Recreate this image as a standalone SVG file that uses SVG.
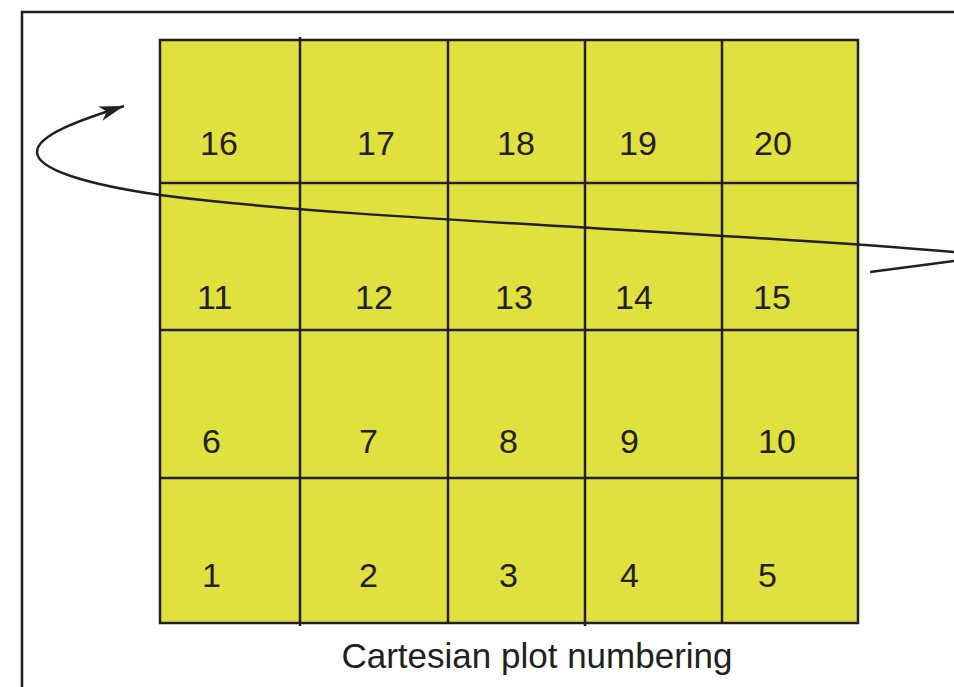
<svg xmlns="http://www.w3.org/2000/svg" width="954" height="687" viewBox="0 0 954 687">
<style>
.ln{stroke:#231f20;stroke-width:2.5;fill:none}
.cell{fill:#e0e03e;stroke:#231f20;stroke-width:2.5}
.num{font-family:"Liberation Sans",Arial,sans-serif;font-size:34px;fill:#231f20}
.cap{font-family:"Liberation Sans",Arial,sans-serif;font-size:35px;fill:#231f20}
</style>
<defs>
<marker id="arr" markerWidth="28" markerHeight="18" refX="25" refY="9" orient="auto" markerUnits="userSpaceOnUse">
<path d="M0,1.5 L25,9 L0,16.5 L7,9 Z" fill="#231f20"/>
</marker>
</defs>
<rect x="22" y="12" width="960" height="700" class="ln"/>
<g id="grid">
<rect x="160" y="40" width="698" height="583" class="cell"/>
<path class="ln" d="M300,37 V626 M448,40 V623 M585,40 V626 M722,40 V623 M160,183 H858 M160,330 H858 M160,478 H858"/>
</g>
<g id="labels">
<text class="num" x="200" y="155">16</text>
<text class="num" x="357" y="155">17</text>
<text class="num" x="497" y="155">18</text>
<text class="num" x="619" y="155">19</text>
<text class="num" x="754" y="155">20</text>
<text class="num" x="197" y="309">11</text>
<text class="num" x="355" y="309">12</text>
<text class="num" x="495" y="309">13</text>
<text class="num" x="615" y="309">14</text>
<text class="num" x="753" y="309">15</text>
<text class="num" x="202" y="453">6</text>
<text class="num" x="359" y="453">7</text>
<text class="num" x="499" y="453">8</text>
<text class="num" x="620" y="453">9</text>
<text class="num" x="758" y="453">10</text>
<text class="num" x="202" y="587">1</text>
<text class="num" x="359" y="587">2</text>
<text class="num" x="499" y="587">3</text>
<text class="num" x="620" y="587">4</text>
<text class="num" x="758" y="587">5</text>
</g>
<g id="connectors">
<path class="ln" marker-end="url(#arr)" d="M870,272 L954,261 Q990,256 954,252 C700,230 350,220 160,195 C90,185 37,170 37,152 C37,135 80,120 124,106"/>
</g>
<text class="cap" x="537" y="668" text-anchor="middle">Cartesian plot numbering</text>
</svg>
